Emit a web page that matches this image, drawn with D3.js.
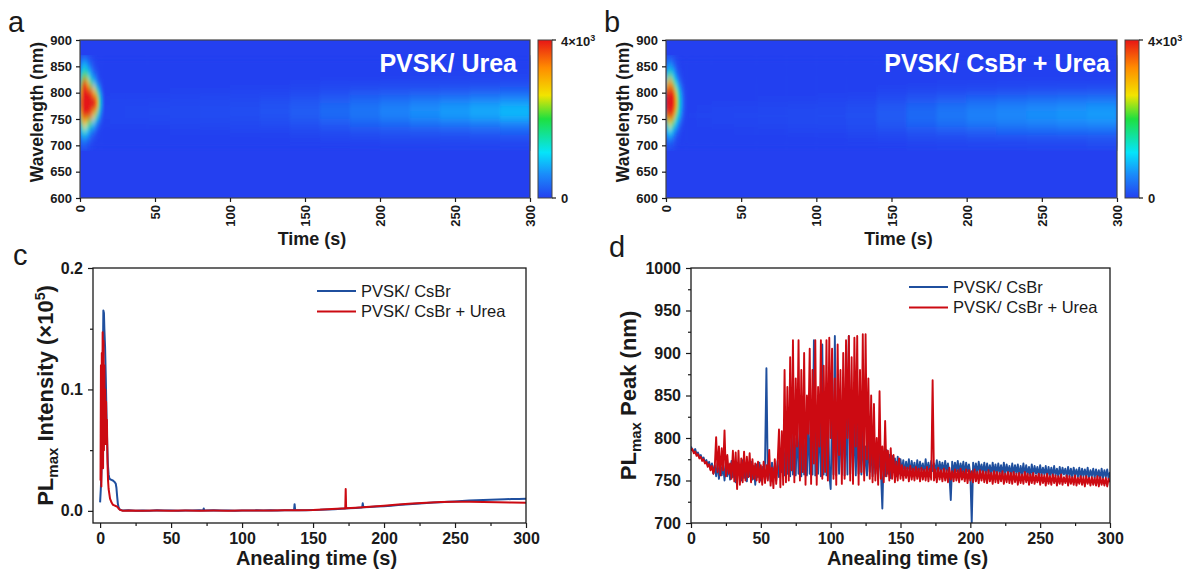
<!DOCTYPE html>
<html>
<head>
<meta charset="utf-8">
<script src="https://cdn.jsdelivr.net/npm/d3@7"></script>
<style>
  body { margin: 0; background: #fff; }
  svg text { font-family: "Liberation Sans", Arial, Helvetica, sans-serif; }
</style>
</head>
<body>
<svg id="fig" width="1188" height="574"></svg>
<script>
// ---------- in-situ PL maps (counts), rows from long to short wavelength ----------
const heatTimeEdges = [0,1.5,3,4.5,6,7.5,9,10.5,12,13.5,15,20,30,45,60,80,100,120,140,160,180,200,220,240,260,280,300];
const heatWaveEdges = [870,855,840,825,810,795,780,765,750,735,720,705,690];

const heatUrea = [
  [300,450,400,280,150,80,30,0,0,0,        0,0,0,0,0,0,0,0,0,0,0,0,0,0,0,0],
  [700,1000,950,700,450,250,120,40,0,0,    0,0,0,0,0,0,0,0,0,0,0,0,0,0,0,0],
  [1300,2100,2000,1500,1000,600,350,170,60,0, 0,0,0,0,0,0,0,0,0,0,10,10,20,20,30,30],
  [2200,3900,3600,3000,2200,1500,950,500,190,60, 0,0,0,0,0,0,0,10,20,30,40,50,60,70,80,90],
  [3000,5000,4800,4400,3900,3300,2700,1800,900,300, 0,0,0,10,20,20,30,40,70,100,140,170,200,220,250,280],
  [3400,5600,5500,5300,5000,4600,4200,3300,1900,800, 20,30,30,40,50,60,70,100,150,220,290,350,410,460,520,580],
  [3400,5500,5400,5200,4900,4500,4100,3200,1800,750, 30,40,50,60,70,90,110,150,220,320,420,510,600,680,760,850],
  [2800,4600,4400,4100,3700,3100,2500,1600,800,300, 30,40,50,60,70,90,110,150,230,330,430,530,620,700,780,880],
  [1800,2900,2700,2300,1800,1300,900,500,220,80, 20,30,30,40,50,60,70,100,150,210,280,340,400,450,500,560],
  [1000,1400,1250,950,650,420,240,110,40,0, 0,0,0,10,20,20,30,40,70,100,140,170,200,220,250,280],
  [400,550,480,340,210,120,60,20,0,0,      0,0,0,0,0,0,10,10,20,30,50,60,70,80,90,100],
  [150,180,150,100,50,20,0,0,0,0,          0,0,0,0,0,0,0,0,0,10,10,20,20,30,30,40]
];

const heatCsBrUrea = [
  [250,300,240,140,60,20,0,0,0,0,          0,0,0,0,0,0,0,0,0,0,0,0,0,0,0,0],
  [600,780,650,400,190,80,20,0,0,0,        0,0,0,0,0,0,0,0,0,0,0,0,0,0,0,0],
  [1300,1700,1450,950,480,210,80,20,0,0,   0,0,0,0,0,0,0,0,0,0,0,0,0,0,0,0],
  [2600,3400,3000,2100,1200,600,240,80,20,0, 0,0,0,0,0,0,0,0,0,10,20,20,30,30,40,40],
  [3700,5000,4600,3600,2400,1400,650,240,70,0, 0,0,0,0,0,0,0,10,30,60,90,110,130,150,160,170],
  [4200,5700,5300,4200,3000,1800,850,330,100,20, 0,0,0,10,20,20,30,50,100,170,240,290,330,360,390,410],
  [4200,5700,5300,4200,3000,1800,850,330,100,20, 10,20,30,40,50,60,70,110,190,290,390,460,520,570,610,650],
  [3500,4700,4200,3200,2100,1300,600,220,60,0, 20,30,40,50,60,70,90,130,220,330,440,520,580,630,670,710],
  [2100,2700,2400,1700,1050,550,220,70,0,0, 10,20,30,40,50,60,80,110,190,290,380,450,500,540,580,610],
  [950,1250,1050,680,370,170,60,0,0,0,     0,0,10,20,20,30,40,60,100,160,220,260,290,310,330,350],
  [350,440,360,220,110,40,0,0,0,0,         0,0,0,0,0,0,10,20,40,60,80,100,110,120,130,140],
  [100,130,100,60,20,0,0,0,0,0,            0,0,0,0,0,0,0,0,10,20,30,40,40,50,50,60]
];

const colorStops  = [0, 600, 1150, 2000, 2600, 3300, 4000];
const colorValues = ["#2440f0", "#1a8cfa", "#05e4fa", "#1ee040", "#f2e400", "#ff8c00", "#e81515"];

// ---------- PL max intensity (x1e5) vs annealing time: [time s, value] ----------
const intensityCsBr = [
  [0,0.007],[0.5,0.018],[1,0.032],[1.5,0.07],[2,0.13],[2.3,0.165],[2.7,0.163],[3,0.15],[3.5,0.135],[4,0.11],
  [4.5,0.08],[5,0.055],[5.5,0.038],[6,0.03],[6.5,0.027],[7,0.026],[8,0.0255],[9,0.025],[10,0.024],[11,0.0225],
  [11.5,0.019],[12,0.012],[12.5,0.006],[13,0.003],[14,0.001],[16,0.0002],[20,0.0004],[25,0.0001],[30,0.0003],
  [35,0.0001],[40,0.0004],[45,0.0002],[50,0.0003],[55,0.0001],[60,0.0003],[65,0.0002],[70,0.0004],[72.6,0.0002],
  [73,0.002],[73.4,0.0003],[80,0.0004],[85,0.0002],[90,0.0003],[95,0.0001],[100,0.0003],[105,0.0002],[110,0.0004],
  [115,0.0002],[120,0.0004],[125,0.0003],[130,0.0005],[136.6,0.0004],[137,0.0055],[137.4,0.0005],[140,0.0006],
  [145,0.0006],[150,0.0008],[155,0.0009],[160,0.0012],[165,0.0014],[170,0.0018],[175,0.0021],[180,0.0024],
  [184.6,0.0028],[185,0.0062],[185.4,0.003],[190,0.0032],[195,0.0035],[200,0.0038],[205,0.0043],[210,0.0048],
  [215,0.0052],[220,0.0056],[225,0.006],[230,0.0064],[235,0.0068],[240,0.0071],[245,0.0075],[250,0.0078],
  [255,0.0082],[260,0.0085],[265,0.0088],[270,0.009],[275,0.0092],[280,0.0094],[285,0.0096],[290,0.0097],
  [295,0.0098],[300,0.0099]
];
const intensityCsBrUrea = [
  [0.3,0.025],[0.6,0.12],[0.9,0.02],[1.2,0.13],[1.5,0.055],[1.8,0.147],[2.1,0.035],[2.4,0.14],[2.7,0.05],[3,0.12],
  [3.3,0.06],[3.6,0.1],[3.9,0.055],[4.2,0.09],[4.5,0.06],[4.8,0.075],[5.2,0.04],[5.6,0.025],[6,0.018],[7,0.01],
  [8,0.007],[9,0.005],[10,0.0045],[11,0.004],[12,0.0035],[13,0.002],[14,0.0008],[16,0.0001],[20,0.0002],[30,0.0001],
  [40,0.0002],[50,0.0001],[60,0.0002],[70,0.0001],[80,0.0002],[90,0.0001],[100,0.0002],[110,0.0002],[120,0.0003],
  [130,0.0004],[140,0.0005],[150,0.0008],[160,0.0014],[170,0.0019],[172.7,0.002],[173,0.018],[173.3,0.0021],
  [180,0.0026],[190,0.0034],[200,0.0043],[210,0.0052],[220,0.006],[230,0.0067],[240,0.0072],[250,0.0076],
  [260,0.0075],[270,0.0072],[280,0.007],[290,0.0068],[300,0.0066]
];

// ---------- PL max peak position (nm), sampled every 1 s from 0 to 300 s ----------
const peakStep = 1;
const peakCsBr = [
  790,786,784,787,781,783,778,780,775,777,  // 0
  771,774,768,772,763,770,758,768,755,770,  // 10
  752,771,756,768,750,772,755,769,751,773,  // 20
  754,767,748,771,757,766,750,774,753,768,  // 30
  749,770,755,772,751,767,745,769,754,771,  // 40
  750,766,756,770,882,752,768,749,771,755,  // 50
  767,750,773,754,769,760,790,756,800,758,  // 60
  790,755,810,757,800,756,820,758,805,755,  // 70
  815,757,800,756,830,758,810,757,915,756,  // 80
  820,758,840,755,910,757,830,756,850,758,  // 90
  740,830,757,920,756,840,758,830,757,850,  // 100
  756,830,757,920,758,840,757,830,756,820,  // 110
  758,800,757,810,758,790,756,800,760,790,  // 120
  755,785,758,790,752,787,760,717,784,755,  // 130
  786,758,780,753,779,760,776,755,778,758,  // 140
  775,760,774,758,772,761,775,757,773,760,  // 150
  771,756,774,759,772,761,770,757,775,760,  // 160
  771,758,773,761,770,759,774,757,772,762,  // 170
  771,758,773,760,770,757,727,772,759,771,  // 180
  761,773,758,770,760,772,757,771,761,769,  // 190
  758,700,771,759,770,757,772,760,769,758,  // 200
  771,757,770,759,768,756,771,758,769,757,  // 210
  770,758,768,756,771,757,769,759,767,756,  // 220
  770,757,768,758,769,755,767,757,770,756,  // 230
  768,757,766,755,769,756,767,758,766,755,  // 240
  768,756,765,757,767,754,766,756,765,755,  // 250
  767,756,764,754,766,755,765,757,764,754,  // 260
  766,755,764,753,765,756,763,754,765,753,  // 270
  764,755,763,754,765,753,762,755,764,753,  // 280
  763,754,762,752,764,753,762,754,763,752,  // 290
  760                                       // 300
];
const peakCsBrUrea = [
  785,787,782,784,779,781,776,778,773,775,  // 0
  770,772,766,769,762,767,758,765,801,760,  // 10
  790,756,788,762,809,755,780,758,770,752,  // 20
  785,749,783,740,785,745,776,748,784,750,  // 30
  778,754,782,748,775,752,770,750,772,748,  // 40
  768,745,772,747,768,750,786,744,765,741,  // 50
  775,746,770,810,742,808,745,880,748,860,  // 60
  750,895,762,915,748,870,790,915,750,880,  // 70
  760,900,745,850,805,905,746,880,770,915,  // 80
  745,860,790,915,752,885,760,915,750,918,  // 90
  800,905,752,870,745,910,780,880,746,900,  // 100
  752,915,800,920,750,895,746,918,790,920,  // 110
  745,880,760,922,750,922,775,870,752,850,  // 120
  748,840,750,800,745,855,752,790,748,820,  // 130
  755,785,750,788,752,780,748,772,750,776,  // 140
  752,768,750,766,753,765,749,767,751,764,  // 150
  750,766,752,764,749,765,751,763,750,766,  // 160
  749,764,751,868,750,763,748,765,751,762,  // 170
  749,764,750,762,748,765,751,761,749,763,  // 180
  750,762,748,764,751,761,749,763,747,762,  // 190
  750,761,748,763,749,760,747,762,750,761,  // 200
  748,760,747,762,749,759,746,761,748,760,  // 210
  747,759,749,761,746,758,748,760,747,759,  // 220
  746,760,748,758,745,759,747,757,746,760,  // 230
  748,758,745,757,747,759,746,756,748,758,  // 240
  745,757,747,756,744,758,746,755,745,757,  // 250
  747,756,744,755,746,757,745,754,747,756,  // 260
  744,755,746,754,745,756,744,753,746,755,  // 270
  745,754,743,755,746,753,744,754,745,753,  // 280
  744,755,743,754,745,752,744,753,743,752,  // 290
  748                                       // 300
];

const seriesNames = ["PVSK/ CsBr", "PVSK/ CsBr + Urea"];
const seriesColors = ["#1f4f9e", "#cc0a12"];
const heatTicksX = [0, 50, 100, 150, 200, 250, 300];
const heatTicksY = [600, 650, 700, 750, 800, 850, 900];
const timeTicks = [0, 50, 100, 150, 200, 250, 300];
const timeMinor = [25, 75, 125, 175, 225, 275];
const intensityTicks = [0.0, 0.1, 0.2];
const intensityMinor = [0.05, 0.15];
const peakTicks = [700, 750, 800, 850, 900, 950, 1000];
const peakMinor = [725, 775, 825, 875, 925, 975];

// ---------- drawing ----------
const ink = "#1a1a1a";
const svg = d3.select("#fig");
const defs = svg.append("defs");
const color = d3.scaleLinear().domain(colorStops).range(colorValues).clamp(true);

function styleAxis(g, size, bold = true) {
  g.select(".domain").remove();
  g.selectAll("line").attr("stroke", ink).attr("stroke-width", 1.2);
  g.selectAll("text").attr("font-size", size).attr("font-weight", bold ? "bold" : "normal")
    .attr("fill", ink).attr("font-family", null);
}

function panelLabel(txt, x, y) {
  svg.append("text").attr("x", x).attr("y", y).attr("font-size", 29).attr("fill", ink).text(txt);
}

function heatPanel(opt) {
  const { x0, x1, y0, y1, grid, title, titleX, id, cbX } = opt;
  const xs = d3.scaleLinear().domain([0, 300]).range([x0, x1]);
  const ys = d3.scaleLinear().domain([600, 900]).range([y1, y0]);
  const g = svg.append("g");

  g.append("rect").attr("x", x0).attr("y", y0).attr("width", x1 - x0).attr("height", y1 - y0)
    .attr("fill", color(0));

  const f = defs.append("filter").attr("id", "soft-" + id)
    .attr("x", 0).attr("y", 0).attr("width", 1).attr("height", 1);
  f.append("feGaussianBlur").attr("stdDeviation", "1.8 4").attr("edgeMode", "duplicate");

  const cells = [];
  grid.forEach((row, r) => row.forEach((v, c) => cells.push({ r, c, v })));
  g.append("g").attr("filter", `url(#soft-${id})`)
    .selectAll("rect").data(cells).join("rect")
    .attr("x", d => xs(heatTimeEdges[d.c]))
    .attr("width", d => xs(heatTimeEdges[d.c + 1]) - xs(heatTimeEdges[d.c]) + 0.4)
    .attr("y", d => ys(heatWaveEdges[d.r]))
    .attr("height", d => ys(heatWaveEdges[d.r + 1]) - ys(heatWaveEdges[d.r]) + 0.4)
    .attr("fill", d => color(d.v));

  g.append("rect").attr("x", x0).attr("y", y0).attr("width", x1 - x0).attr("height", y1 - y0)
    .attr("fill", "none").attr("stroke", "#444").attr("stroke-width", 1.2);

  g.append("text").attr("x", titleX).attr("y", 72).attr("text-anchor", "end")
    .attr("font-size", 25).attr("font-weight", "bold").attr("fill", "#fff").text(title);

  const ay = g.append("g").attr("transform", `translate(${x0},0)`)
    .call(d3.axisLeft(ys).tickValues(heatTicksY).tickSize(4).tickPadding(4));
  styleAxis(ay, 13);

  const ax = g.append("g").attr("transform", `translate(0,${y1})`)
    .call(d3.axisBottom(xs).tickValues(heatTicksX).tickSize(4));
  styleAxis(ax, 13);
  ax.selectAll("text").attr("transform", "rotate(-90)").attr("x", -7).attr("y", 0)
    .attr("dy", "0.35em").attr("text-anchor", "end");

  g.append("text").attr("transform", `translate(${x0 - 37},${(y0 + y1) / 2 - 7}) rotate(-90)`)
    .attr("text-anchor", "middle").attr("font-size", 17.5).attr("font-weight", "bold")
    .attr("fill", ink).text("Wavelength (nm)");
  g.append("text").attr("x", (x0 + x1) / 2 + 7).attr("y", 245).attr("text-anchor", "middle")
    .attr("font-size", 18).attr("font-weight", "bold").attr("fill", ink).text("Time (s)");

  // colour bar
  const grad = defs.append("linearGradient").attr("id", "cb-" + id)
    .attr("x1", 0).attr("y1", 1).attr("x2", 0).attr("y2", 0);
  colorStops.forEach((s, i) => grad.append("stop")
    .attr("offset", s / colorStops[colorStops.length - 1]).attr("stop-color", colorValues[i]));
  const cbW = 14;
  g.append("rect").attr("x", cbX).attr("y", y0).attr("width", cbW).attr("height", y1 - y0)
    .attr("fill", `url(#cb-${id})`).attr("stroke", "#444").attr("stroke-width", 1);
  const cs = d3.scaleLinear().domain([0, 4000]).range([y1, y0]);
  [0, 4000].forEach(v => g.append("line").attr("x1", cbX + cbW).attr("x2", cbX + cbW + 4)
    .attr("y1", cs(v)).attr("y2", cs(v)).attr("stroke", ink).attr("stroke-width", 1.2));
  const top = g.append("text").attr("x", cbX + cbW + 9).attr("y", cs(4000) + 6)
    .attr("font-size", 13).attr("font-weight", "bold").attr("fill", ink);
  top.append("tspan").text("4×10");
  top.append("tspan").attr("dy", -5).attr("font-size", 9).text("3");
  g.append("text").attr("x", cbX + cbW + 9).attr("y", cs(0) + 5)
    .attr("font-size", 13).attr("font-weight", "bold").attr("fill", ink).text("0");
}

heatPanel({ x0: 80, x1: 530, y0: 40, y1: 198, grid: heatUrea, title: "PVSK/ Urea",
            titleX: 517, id: "a", cbX: 538 });
heatPanel({ x0: 666, x1: 1117, y0: 40, y1: 198, grid: heatCsBrUrea, title: "PVSK/ CsBr + Urea",
            titleX: 1110, id: "b", cbX: 1125 });

function linePanel(opt) {
  const { x0, x1, y0, y1, xDomain, yDomain, yTicks, yMinor, yFormat, series, lw, legX, legY, yLabel, labelX } = opt;
  const xs = d3.scaleLinear().domain(xDomain).range([x0, x1]);
  const ys = d3.scaleLinear().domain(yDomain).range([y1, y0]);
  const g = svg.append("g");
  const clipId = "clip-" + legX;
  defs.append("clipPath").attr("id", clipId).append("rect")
    .attr("x", x0).attr("y", y0).attr("width", x1 - x0).attr("height", y1 - y0);

  const line = d3.line().x(d => xs(d[0])).y(d => ys(d[1]));
  const lg = g.append("g").attr("clip-path", `url(#${clipId})`);
  series.forEach((s, i) => lg.append("path").datum(s).attr("d", line)
    .attr("fill", "none").attr("stroke", seriesColors[i]).attr("stroke-width", lw)
    .attr("stroke-linejoin", "round"));

  g.append("rect").attr("x", x0).attr("y", y0).attr("width", x1 - x0).attr("height", y1 - y0)
    .attr("fill", "none").attr("stroke", ink).attr("stroke-width", 1.3);

  const ay = g.append("g").attr("transform", `translate(${x0},0)`)
    .call(d3.axisLeft(ys).tickValues(yTicks).tickFormat(yFormat).tickSize(5).tickPadding(5));
  styleAxis(ay, 16);
  const ayM = g.append("g").attr("transform", `translate(${x0},0)`)
    .call(d3.axisLeft(ys).tickValues(yMinor).tickFormat("").tickSize(3));
  styleAxis(ayM, 16);

  const ax = g.append("g").attr("transform", `translate(0,${y1})`)
    .call(d3.axisBottom(xs).tickValues(timeTicks).tickSize(5).tickPadding(5));
  styleAxis(ax, 16);
  const axM = g.append("g").attr("transform", `translate(0,${y1})`)
    .call(d3.axisBottom(xs).tickValues(timeMinor).tickFormat("").tickSize(3));
  styleAxis(axM, 16);

  g.append("text").attr("x", (x0 + x1) / 2 + 7).attr("y", 565).attr("text-anchor", "middle")
    .attr("font-size", 20).attr("font-weight", "bold").attr("fill", ink).text("Anealing time (s)");

  const yl = g.append("text").attr("transform", `translate(${labelX},${(y0 + y1) / 2}) rotate(-90)`)
    .attr("text-anchor", "middle").attr("font-size", 22).attr("font-weight", "bold").attr("fill", ink);
  yLabel(yl);

  seriesNames.forEach((n, i) => {
    const yy = legY + i * 20.5;
    g.append("line").attr("x1", legX).attr("x2", legX + 39).attr("y1", yy).attr("y2", yy)
      .attr("stroke", seriesColors[i]).attr("stroke-width", 2.2);
    g.append("text").attr("x", legX + 44).attr("y", yy).attr("dy", "0.36em")
      .attr("font-size", 16.5).attr("fill", ink).text(n);
  });
}

const asPairs = arr => arr.map((v, i) => [i * peakStep, v]);

linePanel({
  x0: 93, x1: 526, y0: 268, y1: 523, xDomain: [-5, 300], yDomain: [-0.01, 0.2],
  yTicks: intensityTicks, yMinor: intensityMinor, yFormat: d3.format(".1f"),
  series: [intensityCsBr, intensityCsBrUrea], lw: 2, legX: 317, legY: 291, labelX: 53,
  yLabel: t => {
    t.append("tspan").text("PL");
    t.append("tspan").attr("font-size", 15).attr("dy", 5).text("max");
    t.append("tspan").attr("dy", -5).text(" Intensity (×10");
    t.append("tspan").attr("font-size", 14).attr("dy", -8).text("5");
    t.append("tspan").attr("dy", 8).text(")");
  }
});

linePanel({
  x0: 691, x1: 1110, y0: 268, y1: 523, xDomain: [0, 300], yDomain: [700, 1000],
  yTicks: peakTicks, yMinor: peakMinor, yFormat: d3.format("d"),
  series: [asPairs(peakCsBr), asPairs(peakCsBrUrea)], lw: 1.9, legX: 909, legY: 287, labelX: 636,
  yLabel: t => {
    t.append("tspan").text("PL");
    t.append("tspan").attr("font-size", 15).attr("dy", 5).text("max");
    t.append("tspan").attr("dy", -5).text(" Peak (nm)");
  }
});

panelLabel("a", 8, 32);
panelLabel("b", 604, 32);
panelLabel("c", 13, 265);
panelLabel("d", 609, 257);
</script>
</body>
</html>
